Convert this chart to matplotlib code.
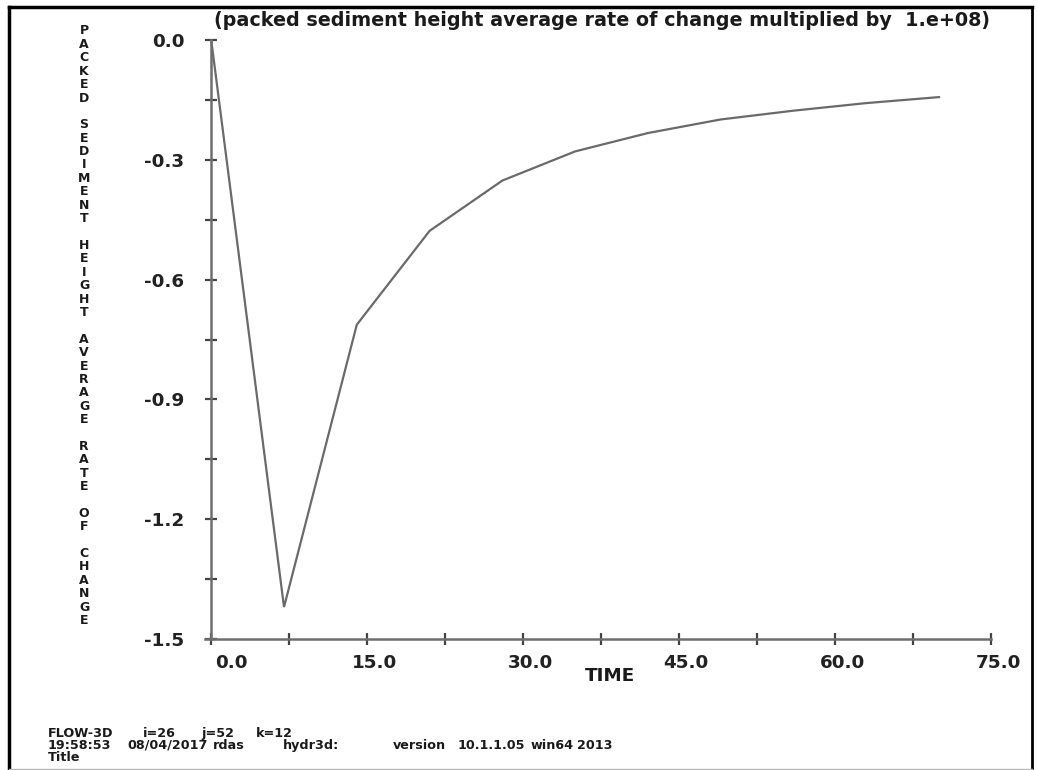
import matplotlib
matplotlib.use("Agg")
import matplotlib.pyplot as plt
from matplotlib.ticker import MultipleLocator, FixedLocator
import matplotlib.transforms as mtransforms
from matplotlib.lines import Line2D

# ---- data ----
time = [0, 7, 14, 21, 28, 35, 42, 49, 56, 63, 70]
rate = [0.0, -1.42, -0.713, -0.478, -0.352, -0.279, -0.233, -0.199, -0.177, -0.158, -0.143]
x_ticks = [0, 15, 30, 45, 60, 75]
x_tick_labels = ["0.0", "15.0", "30.0", "45.0", "60.0", "75.0"]
y_ticks = [0.0, -0.3, -0.6, -0.9, -1.2, -1.5]
y_tick_labels = ["0.0", "-0.3", "-0.6", "-0.9", "-1.2", "-1.5"]
title = "(packed sediment height average rate of change multiplied by  1.e+08)"
ylabel_text = "PACKED SEDIMENT HEIGHT AVERAGE RATE OF CHANGE"
xlabel_text = "TIME"
footer_line1 = ["FLOW-3D", "i=26", "j=52", "k=12"]
footer_line2 = ["19:58:53", "08/04/2017", "rdas", "hydr3d:", "version", "10.1.1.05", "win64", "2013"]
footer_line3 = ["Title"]

W, H = 1038, 770
fig = plt.figure(figsize=(W / 100, H / 100), dpi=100)
FONT = "DejaVu Sans"

def fx(px):
    return px / W

def fy(py):
    return 1 - py / H

ax = fig.add_axes([fx(205), fy(639), fx(991) - fx(205), fy(40) - fy(639)])
ax.set_xlim(-0.6, 75)
ax.set_ylim(-1.5, 0)

axis_col = "#6e6e6e"
ax.plot(time, rate, color="#6a6a6a", lw=1.6, solid_joinstyle="miter")

for s in ["top", "right"]:
    ax.spines[s].set_visible(False)
ax.spines["left"].set_position(("data", 0))
for s in ["left", "bottom"]:
    ax.spines[s].set_color(axis_col)
    ax.spines[s].set_linewidth(1.8)

ax.xaxis.set_major_locator(FixedLocator(x_ticks))
ax.xaxis.set_minor_locator(MultipleLocator(7.5))
ax.yaxis.set_major_locator(FixedLocator(y_ticks))
ax.yaxis.set_minor_locator(MultipleLocator(0.15))
ax.set_xticklabels(x_tick_labels)
ax.set_yticklabels(y_tick_labels)

ax.tick_params(which="both", direction="inout", color="#444444", width=1.6, length=9)
ax.tick_params(axis="x", which="major", pad=6)
ax.tick_params(axis="y", which="major", pad=15)

for i, lab in enumerate(ax.get_xticklabels()):
    lab.set_fontfamily(FONT)
    lab.set_fontweight("bold")
    lab.set_fontsize(13.2)
    lab.set_color("#222222")
    dx = 20 if i == 0 else 7
    lab.set_transform(lab.get_transform() + mtransforms.ScaledTranslation(dx / 100, 0, fig.dpi_scale_trans))
for lab in ax.get_yticklabels():
    lab.set_fontfamily(FONT)
    lab.set_fontweight("bold")
    lab.set_fontsize(13.2)
    lab.set_color("#222222")

# title
fig.text(fx(214), fy(21), title, fontfamily=FONT, fontweight="bold", fontsize=13.8,
         ha="left", va="center", color="#1a1a1a")
# x label
fig.text(fx(610), fy(676), xlabel_text, fontfamily=FONT, fontweight="bold", fontsize=13.2,
         ha="center", va="center", color="#1a1a1a")
# vertical stacked y label
y0, step = 31, 13.4
for i, ch in enumerate(ylabel_text):
    if ch == " ":
        continue
    fig.text(fx(84), fy(y0 + i * step), ch, fontfamily=FONT, fontweight="bold", fontsize=9,
             ha="center", va="center", color="#1a1a1a")

# footer (baseline aligned)
l1_x = [48, 143, 201, 256]
l2_x = [48, 127, 213, 283, 393, 458, 531, 577]
for words, xs, yy in [(footer_line1, l1_x, 737), (footer_line2, l2_x, 749), (footer_line3, [48], 761)]:
    for w, x in zip(words, xs):
        fig.text(fx(x), fy(yy), w, fontfamily=FONT, fontweight="bold", fontsize=9.2,
                 ha="left", va="baseline", color="#1a1a1a")

# outer frame
fig.add_artist(Line2D([fx(9), fx(9)], [fy(7), fy(769)], transform=fig.transFigure, color="black", lw=2.5))
fig.add_artist(Line2D([fx(9), fx(1032)], [fy(7), fy(7)], transform=fig.transFigure, color="black", lw=2.5))
fig.add_artist(Line2D([fx(1032), fx(1032)], [fy(7), fy(769)], transform=fig.transFigure, color="black", lw=2.0))
fig.add_artist(Line2D([fx(9), fx(1032)], [fy(768.5), fy(768.5)], transform=fig.transFigure, color="#bbbbbb", lw=1.0))

fig.savefig("out.png", dpi=100, facecolor="white")
